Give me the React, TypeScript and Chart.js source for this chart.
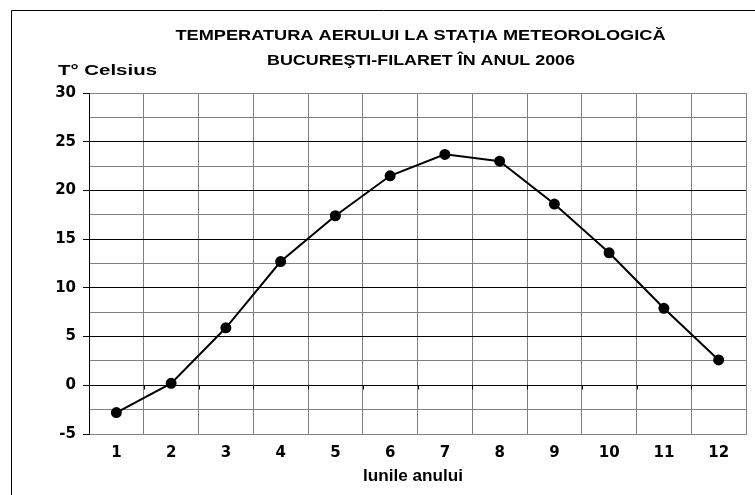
import React, { useEffect, useRef } from "react";
import { Chart, registerables } from "chart.js";

Chart.register(...registerables);

const months = ["1", "2", "3", "4", "5", "6", "7", "8", "9", "10", "11", "12"];
const temperatures = [-2.8, 0.2, 5.9, 12.7, 17.4, 21.5, 23.7, 23.0, 18.6, 13.6, 7.9, 2.6];
const yMin = -5;
const yMax = 30;
const yGridStep = 2.5;
const yLabelStep = 5;
const titleLines = [
  "TEMPERATURA AERULUI LA STAȚIA METEOROLOGICĂ",
  "BUCUREŞTI-FILARET ÎN ANUL 2006",
];
const yAxisTitle = "T° Celsius";
const xAxisTitle = "lunile anului";

const FONT = "'Liberation Sans', Arial, Helvetica, sans-serif";
const TICK_FONT = "'DejaVu Sans', 'Liberation Sans', Arial, sans-serif";

function drawStretched(
  ctx: CanvasRenderingContext2D,
  text: string,
  x: number,
  y: number,
  targetWidth: number,
  align: CanvasTextAlign
) {
  const m = ctx.measureText(text).width;
  const s = m > 0 ? targetWidth / m : 1;
  ctx.save();
  ctx.translate(x, y);
  ctx.scale(s, 1);
  ctx.textAlign = align;
  ctx.fillText(text, 0, 0);
  ctx.restore();
}

const textPlugin = {
  id: "textPlugin",
  afterDraw(chart: any) {
    const ctx = chart.ctx as CanvasRenderingContext2D;
    const area = chart.chartArea;
    ctx.save();
    // outer frame
    ctx.strokeStyle = "#000";
    ctx.lineWidth = 1;
    ctx.beginPath();
    ctx.moveTo(11.5, 500);
    ctx.lineTo(11.5, 10.5);
    ctx.lineTo(760, 10.5);
    ctx.stroke();

    // small ticks at zero line
    const yScale = chart.scales.y;
    const y0 = Math.round(yScale.getPixelForValue(0)) + 0.5;
    ctx.strokeStyle = "#000";
    ctx.beginPath();
    const w = (area.right - area.left) / months.length;
    for (let i = 1; i < months.length; i++) {
      const x = Math.round(area.left + i * w) + 0.5;
      ctx.moveTo(x, y0);
      ctx.lineTo(x, y0 + 4);
    }
    ctx.stroke();

    ctx.fillStyle = "#000";
    ctx.textBaseline = "middle";
    ctx.font = `bold 15px ${FONT}`;
    drawStretched(ctx, titleLines[0], 420.5, 36, 490, "center");
    drawStretched(ctx, titleLines[1], 421, 60.5, 308, "center");
    drawStretched(ctx, yAxisTitle, 58, 71, 99, "left");
    ctx.font = `bold 16px ${FONT}`;
    drawStretched(ctx, xAxisTitle, 413, 477, 100, "center");
    ctx.restore();
  },
};

export default function App() {
  const ref = useRef<HTMLCanvasElement | null>(null);
  useEffect(() => {
    if (!ref.current) return;
    const chart = new Chart(ref.current, {
      type: "line",
      data: {
        labels: months,
        datasets: [
          {
            data: temperatures,
            borderColor: "#000",
            backgroundColor: "#000",
            borderWidth: 2,
            pointRadius: 4.5,
            pointBackgroundColor: "#000",
            pointBorderColor: "#000",
            tension: 0,
          },
        ],
      },
      options: {
        responsive: false,
        animation: false,
        devicePixelRatio: 1,
        layout: { padding: { top: 93, right: 9, left: 0, bottom: 0 } },
        plugins: {
          legend: { display: false },
          tooltip: { enabled: false },
          title: { display: false },
        },
        scales: {
          x: {
            type: "category",
            offset: true,
            grid: {
              offset: true,
              color: "#808080",
              lineWidth: 1,
              drawTicks: false,
            },
            border: { color: "#808080", width: 1 },
            ticks: {
              color: "#000",
              font: { family: TICK_FONT, size: 15, weight: "bold" },
              padding: 10,
              maxRotation: 0,
            },
            afterFit: (scale: any) => {
              scale.height = 61;
            },
          },
          y: {
            min: yMin,
            max: yMax,
            grid: {
              color: (c: any) => {
                const v = c.tick ? c.tick.value : 0;
                if (v === yMin || v === yMax) return "#808080";
                return Math.abs(v % yLabelStep) < 1e-6 ? "#000" : "#808080";
              },
              tickColor: (c: any) => {
                const v = c.tick ? c.tick.value : 0;
                return Math.abs(v % yLabelStep) < 1e-6 ? "#000" : "rgba(0,0,0,0)";
              },
              tickLength: 6,
              lineWidth: 1,
            },
            border: { color: "#000", width: 1 },
            ticks: {
              stepSize: yGridStep,
              color: "#000",
              padding: 7,
              font: { family: TICK_FONT, size: 15, weight: "bold" },
              callback: (v: any) =>
                Math.abs(Number(v) % yLabelStep) < 1e-6 ? String(v) : "",
            },
            afterFit: (scale: any) => {
              scale.width = 89;
            },
          },
        },
      },
      plugins: [textPlugin],
    } as any);
    return () => chart.destroy();
  }, []);
  return (
    <div style={{ position: "fixed", left: 0, top: 0, width: 755, height: 495, background: "#fff" }}>
      <canvas ref={ref} width={755} height={495} style={{ display: "block" }} />
    </div>
  );
}
